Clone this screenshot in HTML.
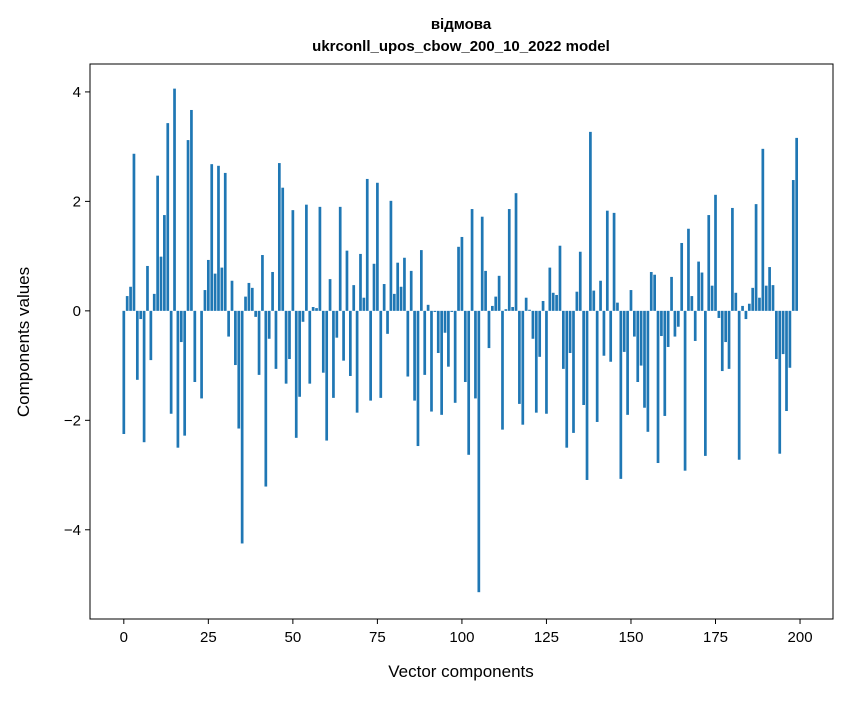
<!DOCTYPE html>
<html><head><meta charset="utf-8"><style>
body{margin:0;background:#fff;}
svg text{font-family:"Liberation Sans","DejaVu Sans",sans-serif;}
</style></head><body>
<svg id="chart" width="847" height="696" xmlns="http://www.w3.org/2000/svg">
<rect width="847" height="696" fill="#fff"/>
<text x="461" y="29" text-anchor="middle" font-size="15" font-weight="bold">відмова</text>
<text x="461" y="51" text-anchor="middle" font-size="15" font-weight="bold">ukrconll_upos_cbow_200_10_2022 model</text>
<g id="bars"></g>
<g id="xticks"></g>
<g id="yticks"></g>
<rect x="90" y="64" width="743" height="555" fill="none" stroke="#000" stroke-width="1"/>
<text x="461" y="677" text-anchor="middle" font-size="17">Vector components</text>
<text transform="translate(29,342) rotate(-90)" text-anchor="middle" font-size="17">Components values</text>
</svg>
<script>
const values = [-2.25,0.27,0.44,2.87,-1.26,-0.15,-2.4,0.82,-0.9,0.31,2.47,0.99,1.75,3.43,-1.88,4.06,-2.5,-0.57,-2.28,3.12,
3.67,-1.3,0.0,-1.6,0.38,0.93,2.68,0.68,2.65,0.79,2.52,-0.47,0.55,-0.99,-2.15,-4.25,0.26,0.51,0.42,-0.11,
-1.17,1.02,-3.21,-0.51,0.71,-1.06,2.7,2.25,-1.33,-0.88,1.84,-2.32,-1.57,-0.2,1.94,-1.33,0.07,0.05,1.9,-1.13,
-2.37,0.58,-1.59,-0.49,1.9,-0.91,1.1,-1.19,0.47,-1.86,1.04,0.24,2.41,-1.64,0.86,2.34,-1.59,0.49,-0.42,2.01,
0.31,0.88,0.44,0.97,-1.2,0.73,-1.64,-2.47,1.11,-1.17,0.11,-1.84,-0.02,-0.77,-1.9,-0.4,-1.02,-0.02,-1.68,1.17,
1.35,-1.3,-2.63,1.86,-1.6,-5.14,1.72,0.73,-0.68,0.09,0.26,0.64,-2.17,0.03,1.86,0.07,2.15,-1.7,-2.08,0.24,
0.02,-0.51,-1.86,-0.84,0.18,-1.88,0.79,0.33,0.29,1.19,-1.06,-2.5,-0.77,-2.23,0.35,1.08,-1.72,-3.09,3.27,0.37,
-2.03,0.55,-0.82,1.83,-0.93,1.79,0.15,-3.07,-0.75,-1.9,0.38,-0.47,-1.3,-1.0,-1.77,-2.21,0.71,0.66,-2.78,-0.46,
-1.92,-0.66,0.62,-0.47,-0.29,1.24,-2.92,1.5,0.27,-0.55,0.9,0.7,-2.65,1.75,0.46,2.12,-0.13,-1.1,-0.57,-1.06,
1.88,0.33,-2.72,0.09,-0.15,0.13,0.42,1.95,0.24,2.96,0.46,0.8,0.47,-0.88,-2.61,-0.79,-1.83,-1.04,2.39,3.16];
const xTicks = [0,25,50,75,100,125,150,175,200];
const yTicks = [-4,-2,0,2,4];
const NS="http://www.w3.org/2000/svg";
const L=90,R=833,T=64,B=619, xmin=-10, xmax=209.75, ymin=-5.63, ymax=4.51;
function xs(v){return L+(v-xmin)/(xmax-xmin)*(R-L);}
function ys(v){return B-(v-ymin)/(ymax-ymin)*(B-T);}
const bars=document.getElementById('bars');
const w=xs(0.8)-xs(0);
values.forEach((v,i)=>{
  const r=document.createElementNS(NS,'rect');
  
  
  const y0=ys(0), y1=ys(v);
  r.setAttribute('x',xs(i)-w/2);
  r.setAttribute('y',Math.min(y0,y1));
  r.setAttribute('width',w);
  r.setAttribute('height',Math.abs(y1-y0));
  r.setAttribute('fill','#1f77b4');
  bars.appendChild(r);
});
const xg=document.getElementById('xticks');
xTicks.forEach(t=>{
  const l=document.createElementNS(NS,'line');
  
  
  l.setAttribute('x1',xs(t));l.setAttribute('x2',xs(t));l.setAttribute('y1',B);l.setAttribute('y2',B+5);
  l.setAttribute('stroke','#000');
  xg.appendChild(l);
  const tx=document.createElementNS(NS,'text');
  
  
  tx.setAttribute('x',xs(t));tx.setAttribute('y',B+23);
  tx.setAttribute('text-anchor','middle');tx.setAttribute('font-size','15');
  tx.textContent=t;
  xg.appendChild(tx);
});
const yg=document.getElementById('yticks');
yTicks.forEach(t=>{
  const l=document.createElementNS(NS,'line');
  
  
  l.setAttribute('x1',L-5);l.setAttribute('x2',L);l.setAttribute('y1',ys(t));l.setAttribute('y2',ys(t));
  l.setAttribute('stroke','#000');
  yg.appendChild(l);
  const tx=document.createElementNS(NS,'text');
  
  
  tx.setAttribute('x',L-9);tx.setAttribute('y',ys(t)+5);
  tx.setAttribute('text-anchor','end');tx.setAttribute('font-size','15');
  tx.textContent=t<0?'\u2212'+Math.abs(t):t;
  yg.appendChild(tx);
});
</script>
</body></html>
